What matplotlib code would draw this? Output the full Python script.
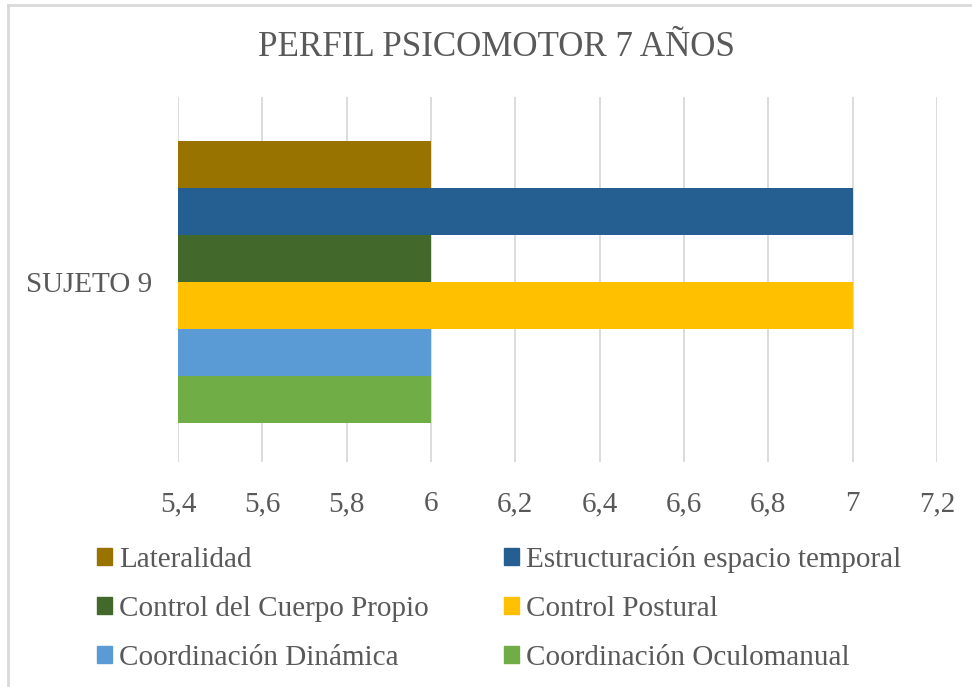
import matplotlib.pyplot as plt
from matplotlib.lines import Line2D
from matplotlib.ticker import FuncFormatter

plt.rcParams['font.family'] = ['Liberation Serif', 'DejaVu Serif']

# --- datos ---
titulo = 'PERFIL PSICOMOTOR 7 AÑOS'
categoria = 'SUJETO 9'
series = ['Lateralidad', 'Estructuración espacio temporal', 'Control del Cuerpo Propio',
          'Control Postural', 'Coordinación Dinámica', 'Coordinación Oculomanual']
valores = [6, 7, 6, 7, 6, 6]
colores = ['#997300', '#255E91', '#43682B', '#FFC000', '#5B9BD5', '#70AD47']
xticks = [5.4, 5.6, 5.8, 6.0, 6.2, 6.4, 6.6, 6.8, 7.0, 7.2]

gris = '#595959'
fig = plt.figure(figsize=(9.72, 6.87), dpi=100)
ax = fig.add_axes([178/972, 1-462/687, (937-178)/972, (462-97)/687])

n = len(series)
grupo = 0.773
h = grupo / n
centro = -0.007
handles = []
for i, (s, v, c) in enumerate(zip(series, valores, colores)):
    y = centro + grupo/2 - h/2 - i*h
    ax.barh(y, v - 5.4, left=5.4, height=h, color=c, zorder=3)
    handles.append(plt.Rectangle((0, 0), 1, 1, color=c, label=s))

ax.set_xlim(5.4, 7.2)
ax.set_ylim(-0.5, 0.5)
ax.set_xticks(xticks)
ax.xaxis.set_major_formatter(FuncFormatter(lambda x, p: ('%g' % round(x, 1)).replace('.', ',')))
ax.set_yticks([centro])
ax.set_yticklabels([categoria])
ax.tick_params(axis='x', length=0, pad=21, labelsize=21, labelcolor=gris)
ax.tick_params(axis='y', length=0, pad=18.7, labelsize=21, labelcolor=gris)
ax.grid(axis='x', color='#D9D9D9', linewidth=1.3, zorder=0)
for sp in ax.spines.values():
    sp.set_visible(False)

fig.text(496/972, 1-47/687, titulo, ha='center', va='center', fontsize=25.2, color=gris)

# orden fila por fila con ncol=2
orden = [0, 2, 4, 1, 3, 5]
fig.legend([handles[i] for i in orden], [series[i] for i in orden], ncol=2,
           loc='upper left', bbox_to_anchor=(97/972, 1-546/687), frameon=False,
           borderpad=0, borderaxespad=0,
           fontsize=21, labelcolor=gris, handlelength=0.5, handleheight=0.5,
           handletextpad=0.25, columnspacing=2.6, labelspacing=0.79)

# borde del gráfico
fig.add_artist(Line2D([8/972, 8/972], [0, 1-5/687], color='#D9D9D9', linewidth=2))
fig.add_artist(Line2D([8/972, 1], [1-5/687, 1-5/687], color='#D9D9D9', linewidth=2))

fig.savefig('out.png', dpi=100)
